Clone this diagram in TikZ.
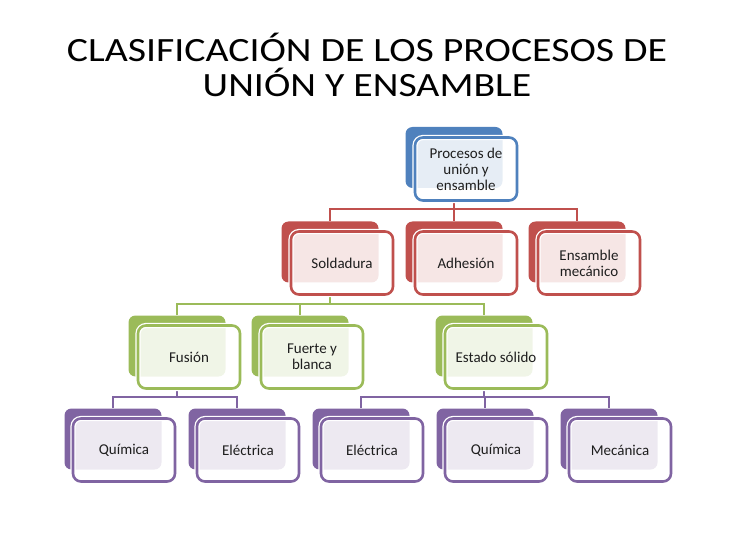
\documentclass[tikz,border=0pt]{standalone}
\usepackage{fontspec}
\setmainfont{Carlito}
\newfontfamily\titlefont[FakeStretch=1.17]{Carlito}
\usetikzlibrary{positioning,backgrounds}
\definecolor{cBlue}{HTML}{4F81BD}
\definecolor{cRed}{HTML}{C0504D}
\definecolor{cGreen}{HTML}{9BBB59}
\definecolor{cPurple}{HTML}{8064A2}
\definecolor{cText}{HTML}{1E1E1E}

\begin{document}
\begin{tikzpicture}[
  x=1pt, y=-1pt,
  font=\fontsize{15}{16}\selectfont,
  back/.style={rounded corners=7pt, fill=#1, minimum width=97pt,
               minimum height=61pt, inner sep=0pt},
  front/.style={rounded corners=8pt, draw=#1, line width=2.6pt, fill=white,
                fill opacity=0.86, text opacity=1, text=cText,
                preaction={draw=white, line width=5.2pt},
                minimum width=102pt, minimum height=63pt, inner sep=2pt,
                align=center},
  link/.style={draw=#1, line width=2.6pt},
]
\useasboundingbox (0,0) rectangle (734,540);

% ---------------- title ----------------
\node (title) [font=\titlefont\fontsize{34}{35}\selectfont, align=center, text=black]
  at (367,65) {CLASIFICACIÓN DE LOS PROCESOS DE\\UNIÓN Y ENSAMBLE};

% ---------------- level 1 ----------------
\node (proc-b) [back=cBlue] at (454,157.5) {};
\node (proc) [front=cBlue] at ([shift={(12,11.5)}]proc-b.center) {Procesos de\\unión y\\ensamble};

% ---------------- level 2 ----------------
\node (sold-b) [back=cRed] at (330,252) {};
\node (sold) [front=cRed] at ([shift={(12,11)}]sold-b.center) {Soldadura};
\node (adh-b) [back=cRed] at (454,252) {};
\node (adh) [front=cRed] at ([shift={(12,11)}]adh-b.center) {Adhesión};
\node (ens-b) [back=cRed] at (577,252) {};
\node (ens) [front=cRed] at ([shift={(12,11)}]ens-b.center) {Ensamble\\mecánico};

% ---------------- level 3 ----------------
\node (fus-b) [back=cGreen] at (177,346) {};
\node (fus) [front=cGreen] at ([shift={(12,11)}]fus-b.center) {Fusión};
\node (fue-b) [back=cGreen] at (300,346) {};
\node (fue) [front=cGreen] at ([shift={(12,11)}]fue-b.center) {Fuerte y\\blanca};
\node (est-b) [back=cGreen] at (484,346) {};
\node (est) [front=cGreen] at ([shift={(12,11)}]est-b.center) {Estado sólido};

% ---------------- level 4 ----------------
\node (qui1-b) [back=cPurple] at (113,439) {};
\node (qui1) [front=cPurple] at ([shift={(11,11)}]qui1-b.center) {Química};
\node (ele1-b) [back=cPurple] at (237,439) {};
\node (ele1) [front=cPurple] at ([shift={(11,11)}]ele1-b.center) {Eléctrica};
\node (ele2-b) [back=cPurple] at (361,439) {};
\node (ele2) [front=cPurple] at ([shift={(11,11)}]ele2-b.center) {Eléctrica};
\node (qui2-b) [back=cPurple] at (485,439) {};
\node (qui2) [front=cPurple] at ([shift={(11,11)}]qui2-b.center) {Química};
\node (mec-b) [back=cPurple] at (609,439) {};
\node (mec) [front=cPurple] at ([shift={(11,11)}]mec-b.center) {Mecánica};

% ---------------- connectors ----------------
\coordinate (busA) at (454,209);
\coordinate (busB) at (330,304);
\coordinate (busC) at (177,397);
\coordinate (busD) at (484,397);

\begin{scope}[on background layer]
  \draw[link=cRed] (proc-b |- proc.south) -- (busA);
  \draw[link=cRed] (sold-b.north) -- (busA -| sold-b) -- (busA -| ens-b) -- (ens-b.north);
  \draw[link=cRed] (busA) -- (adh-b.north);

  \draw[link=cGreen] (sold-b |- sold.south) -- (busB);
  \draw[link=cGreen] (fus-b.north) -- (busB -| fus-b) -- (busB -| est-b) -- (est-b.north);
  \draw[link=cGreen] (busB -| fue-b) -- (fue-b.north);

  \draw[link=cPurple] (fus-b |- fus.south) -- (busC);
  \draw[link=cPurple] (qui1-b.north) -- (busC -| qui1-b) -- (busC -| ele1-b) -- (ele1-b.north);

  \draw[link=cPurple] (est-b |- est.south) -- (busD);
  \draw[link=cPurple] (ele2-b.north) -- (busD -| ele2-b) -- (busD -| mec-b) -- (mec-b.north);
  \draw[link=cPurple] (busD -| qui2-b) -- (qui2-b.north);
\end{scope}

\end{tikzpicture}
\end{document}
